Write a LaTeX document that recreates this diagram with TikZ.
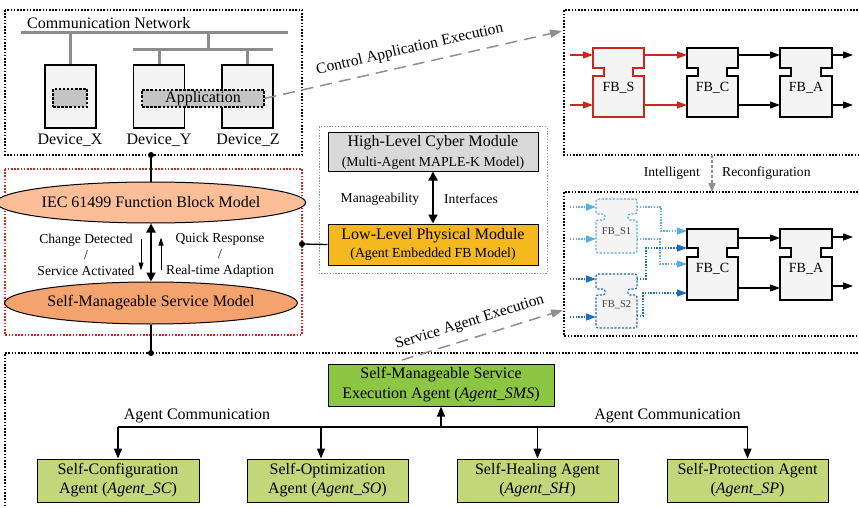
\documentclass[tikz,border=0pt]{standalone}
\usepackage{fontspec}
\setmainfont{Liberation Serif}
\usetikzlibrary{arrows.meta,calc,positioning,shapes.geometric}
\definecolor{busgray}{HTML}{8C8C8C}
\definecolor{devfill}{HTML}{F4F4F4}
\definecolor{appfill}{HTML}{C4C4C4}
\definecolor{fbred}{HTML}{C8281E}
\definecolor{lblue}{HTML}{5AAEE0}
\definecolor{dblue}{HTML}{1F6EBE}
\definecolor{iecfill}{HTML}{FBBE98}
\definecolor{smsfill}{HTML}{F4A26E}
\definecolor{cyberfill}{HTML}{D9D9D9}
\definecolor{physfill}{HTML}{F5B81E}
\definecolor{smsgreen}{HTML}{8DC642}
\definecolor{agentgreen}{HTML}{C3D67A}
\definecolor{arrgray}{HTML}{8F8F8F}
\newcommand{\fbshape}[5]{%
  \filldraw[#2] (#1.north west) -- (#1.north east) -- ([yshift=-#3pt]#1.north east) -- ++(-#5,0) -- ++(0,#4) -- ++(#5,0) coordinate (#1-nb)
    -- (#1.south east) -- (#1.south west) -- (#1.south west |- #1-nb) -- ++(#5,0) -- ++(0,-#4) -- ++(-#5,0) -- cycle;}

\begin{document}
\begin{tikzpicture}[x=1pt,y=-1pt,
  txtbig/.style={font=\fontsize{16}{19}\selectfont,inner sep=0pt,align=center},
  txtmid/.style={font=\fontsize{13.6}{16}\selectfont,inner sep=0pt,align=center},
  blkdot/.style={line width=1.3pt,dash pattern=on 1.6pt off 1.6pt},
  reddot/.style={blkdot,draw=fbred},
  graydot/.style={line width=1pt,draw=arrgray,dash pattern=on 1.3pt off 1.5pt},
  busline/.style={busgray,line width=3pt},
  devbox/.style={draw,line width=1.4pt,fill=devfill,minimum width=51pt,minimum height=63pt,inner sep=0pt},
  appbox/.style={draw,line width=1.1pt,fill=appfill,dash pattern=on 2.5pt off 1.6pt,inner sep=0pt,font=\fontsize{16}{19}\selectfont},
  grayarr/.style={arrgray,line width=1.5pt,dash pattern=on 12pt off 7pt,-{Triangle[length=12pt,width=8pt]}},
  fbbox/.style={inner sep=0pt,outer sep=0pt},
  fbtxt/.style={font=\fontsize{14}{16}\selectfont,inner sep=0pt},
  fbarr/.style={line width=1.2pt,-{Triangle[length=10pt,width=7pt]}},
  bluearr/.style={line width=1.3pt,dash pattern=on 1.4pt off 1.4pt,-{Triangle[length=10pt,width=7pt]}},
  modbox/.style={draw,line width=1pt,minimum width=210pt,inner sep=0pt,align=center,font=\fontsize{16}{20}\selectfont},
  agbox/.style={draw,line width=1pt,fill=agentgreen,minimum width=161pt,minimum height=43pt,inner sep=0pt,align=center,font=\fontsize{16}{19}\selectfont},
  agarr/.style={line width=1.5pt,-{Triangle[length=10pt,width=8pt]}},
  dblarr/.style={line width=2.2pt,{Triangle[length=9pt,width=9pt]}-{Triangle[length=9pt,width=9pt]}},
  smarr/.style={line width=1pt,-{Triangle[length=8pt,width=5pt]}}]
\useasboundingbox (0,0) rectangle (859,508);

\draw[blkdot] (5,10) rectangle (302,155);
\node[txtbig,anchor=base west] (cnet) at (27,29) {Communication Network};
\draw[busline] (21,33) -- (288,33);
\draw[busline] (133,49.5) -- (273,49.5);
\draw[busline] (208,33) -- (208,49.5);
\node[devbox] (devx) at (70.5,96.5) {};
\node[devbox] (devy) at (159,96.5) {};
\node[devbox] (devz) at (247.5,96.5) {};
\draw[busline] (devx.north) -- (devx.north |- 0,33);
\draw[busline] (devy.north) -- (devy.north |- 0,49.5);
\draw[busline] (devz.north) -- (devz.north |- 0,49.5);
\node[appbox,minimum width=34pt,minimum height=18pt] (appx) at (70,98) {};
\node[appbox,minimum width=122pt,minimum height=17pt] (app) at (203,98.5) {Application};
\node[txtbig] (devx-l) at (70,140) {Device\_X};
\node[txtbig] (devy-l) at (159,140) {Device\_Y};
\node[txtbig] (devz-l) at (248,140) {Device\_Z};

\coordinate (ctrl) at (562,31);
\draw[grayarr] (app.east) -- (ctrl) node[midway,sloped,above=8pt,font=\fontsize{15.5}{18}\selectfont,inner sep=0pt,text=black] (ctrl-l) {Control Application Execution};

\draw[blkdot] (858,10) -- (564,10) -- (564,155) -- (858,155);
\node[fbbox,minimum width=51pt,minimum height=69pt] (fbs) at (618.5,82.5) {};
\node[fbbox,minimum width=51pt,minimum height=69pt] (fbc) at (712.5,82.5) {};
\node[fbbox,minimum width=52pt,minimum height=69pt] (fba) at (806,82.5) {};
\fbshape{fbs}{draw=fbred,fill=devfill,line width=1.4pt}{20}{8}{11}
\fbshape{fbc}{draw=black,fill=devfill,line width=1.4pt}{20}{8}{11}
\fbshape{fba}{draw=black,fill=devfill,line width=1.4pt}{20}{8}{11}
\node[fbtxt] (fbs-t) at ([yshift=-5.5pt]fbs.center) {FB\_S};
\node[fbtxt] (fbc-t) at ([yshift=-5.5pt]fbc.center) {FB\_C};
\node[fbtxt] (fba-t) at ([yshift=-5.5pt]fba.center) {FB\_A};
\draw[fbarr,fbred] ([yshift=-7pt]fbs.north west) ++(-23,0) -- ++(23,0);
\draw[fbarr,fbred] ([yshift=12pt]fbs.south west) ++(-23,0) -- ++(23,0);
\draw[fbarr,fbred] ([yshift=-7pt]fbs.north east) -- ([yshift=-7pt]fbc.north west);
\draw[fbarr,fbred] ([yshift=12pt]fbs.south east) -- ([yshift=12pt]fbc.south west);
\draw[fbarr] ([yshift=-7pt]fbc.north east) -- ([yshift=-7pt]fba.north west);
\draw[fbarr] ([yshift=12pt]fbc.south east) -- ([yshift=12pt]fba.south west);
\draw[fbarr] ([yshift=-7pt]fba.north east) -- ++(21,0);
\draw[fbarr] ([yshift=12pt]fba.south east) -- ++(21,0);

\coordinate (rc1) at (712,155);
\coordinate (rc2) at (712,192);
\draw[arrgray,line width=1.2pt,dash pattern=on 3pt off 2pt,-{Triangle[length=9pt,width=7pt]}] (rc1) -- (rc2);
\node[txtmid,anchor=east] (intl) at (700,173) {Intelligent};
\node[txtmid,anchor=west] (reconf) at (722,173) {Reconfiguration};

\draw[blkdot] (858,192) -- (564,192) -- (564,336) -- (858,336);
\node[fbbox,minimum width=41pt,minimum height=54pt] (fbsa) at (616.5,226) {};
\node[fbbox,minimum width=41pt,minimum height=54pt] (fbsb) at (616.5,301) {};
\node[fbbox,minimum width=51pt,minimum height=71pt] (fbc2) at (712.5,264.5) {};
\node[fbbox,minimum width=52pt,minimum height=71pt] (fba2) at (806,264.5) {};
\fbshape{fbsa}{draw=lblue,fill=devfill,line width=1.1pt,dash pattern=on 2.2pt off 1.5pt,rounded corners=2pt}{15}{6}{9}
\fbshape{fbsb}{draw=dblue,fill=devfill,line width=1.1pt,dash pattern=on 2.2pt off 1.5pt,rounded corners=2pt}{15}{6}{9}
\fbshape{fbc2}{draw=black,fill=devfill,line width=1.4pt}{19}{9}{11}
\fbshape{fba2}{draw=black,fill=devfill,line width=1.4pt}{19}{9}{11}
\node[fbtxt,font=\fontsize{10.5}{12}\selectfont,text=black!75] (fbsa-t) at ([yshift=-6pt]fbsa.center) {FB\_S1};
\node[fbtxt,font=\fontsize{10.5}{12}\selectfont,text=black!75] (fbsb-t) at ([yshift=-4pt]fbsb.center) {FB\_S2};
\node[fbtxt] (fbc2-t) at ([yshift=-4.5pt]fbc2.center) {FB\_C};
\node[fbtxt] (fba2-t) at ([yshift=-4.5pt]fba2.center) {FB\_A};
\draw[bluearr,lblue] ([yshift=-8pt]fbsa.north west) ++(-26,0) -- ++(26,0);
\draw[bluearr,lblue] ([yshift=14pt]fbsa.south west) ++(-26,0) -- ++(26,0);
\draw[bluearr,dblue] ([yshift=-5pt]fbsb.north west) ++(-26,0) -- ++(26,0);
\draw[bluearr,dblue] ([yshift=11pt]fbsb.south west) ++(-26,0) -- ++(26,0);
\draw[bluearr,lblue] ([yshift=-8pt]fbsa.north east) -- ++(24,0) |- ([yshift=-2pt]fbc2.north west);
\draw[bluearr,lblue] ([yshift=14pt]fbsa.south east) -- ++(23,0) |- ([yshift=-35pt]fbc2.north west);
\draw[bluearr,dblue] ([yshift=-5pt]fbsb.north east) -- ++(9,0) |- ([yshift=-19pt]fbc2.north west);
\draw[bluearr,dblue] ([yshift=12pt]fbsb.south east) -- ++(6,0) |- ([yshift=7pt]fbc2.south west);
\draw[fbarr] ([yshift=-9pt]fbc2.north east) -- ([yshift=-9pt]fba2.north west);
\draw[fbarr] ([yshift=12pt]fbc2.south east) -- ([yshift=12pt]fba2.south west);
\draw[fbarr] ([yshift=-8pt]fba2.north east) -- ++(21,0);
\draw[fbarr] ([yshift=14pt]fba2.south east) -- ++(21,0);

\draw[reddot] (5,169) rectangle (302,335);
\node[ellipse,draw,line width=1pt,fill=iecfill,minimum width=237pt,minimum height=41pt,inner sep=0pt,font=\fontsize{16}{19}\selectfont] (iec) at (151,202.5) {IEC 61499 Function Block Model};
\node[ellipse,draw,line width=1pt,fill=smsfill,minimum width=240pt,minimum height=42pt,inner sep=0pt,font=\fontsize{16}{19}\selectfont] (smsm) at (151,303) {Self-Manageable Service Model};
\coordinate (j1) at (151,155);
\coordinate (j2) at (151,353);
\coordinate (j3) at (302,244);
\draw[line width=1.3pt] (j1) -- (iec.north);
\draw[line width=1.3pt] (smsm.south) -- (j2);
\fill (j1) circle (3pt);
\fill (j2) circle (3pt);
\draw[dblarr] (iec.south) -- (smsm.north);
\draw[smarr] ([xshift=-10pt]iec.south) ++(0,15) -- ++(0,32);
\draw[smarr] ([xshift=10pt]smsm.north) ++(0,-12) -- ++(0,-32);
\node[txtmid] (chg) at (86,255) {Change Detected\\/\\Service Activated};
\node[txtmid] (qresp) at (220,255) {Quick Response\\/\\Real-time Adaption};

\draw[graydot] (319,127) rectangle (547,273);
\node[modbox,fill=cyberfill,minimum height=38pt] (hlc) at (433,152) {High-Level Cyber Module\\{\fontsize{13.8}{16}\selectfont(Multi-Agent MAPLE-K Model)}};
\node[modbox,fill=physfill,minimum height=41pt,font=\fontsize{16}{18}\selectfont] (llp) at (433,244.5) {Low-Level Physical Module\\{\fontsize{13.8}{16}\selectfont(Agent Embedded FB Model)}};
\draw[dblarr,line width=1.8pt] (hlc.south) -- (llp.north);
\node[txtmid] (mng) at (380,199) {Manageability};
\node[txtmid] (itf) at (471,199) {Interfaces};
\draw[line width=1.3pt] (j3) -- (llp.west);
\fill (j3) circle (3pt);

\draw[blkdot] (858,353) -- (5,353) -- (5,510);
\coordinate (sae) at (402,360);
\coordinate (sae2) at (563,310);
\draw[grayarr] (sae) -- (sae2) node[pos=0.45,sloped,above=8pt,font=\fontsize{15.5}{18}\selectfont,inner sep=0pt,text=black] (sae-l) {Service Agent Execution};

\node[agbox,fill=smsgreen,minimum width=226pt,minimum height=42pt,font=\fontsize{16}{20}\selectfont] (agsms) at (441,385) {Self-Manageable Service\\Execution Agent (\textit{Agent\_SMS})};
\node[agbox,minimum width=162pt] (agsc) at (118,480.5) {Self-Configuration\\Agent (\textit{Agent\_SC})};
\node[agbox] (agso) at (327.5,480.5) {Self-Optimization\\Agent (\textit{Agent\_SO})};
\node[agbox] (agsh) at (537.5,480.5) {Self-Healing Agent\\(\textit{Agent\_SH})};
\node[agbox] (agsp) at (747.5,480.5) {Self-Protection Agent\\(\textit{Agent\_SP})};
\draw[line width=1.5pt] (agsc.north |- 0,427) -- (agsp.north |- 0,427);
\draw[agarr] (agsc.north |- 0,427) -- (agsc.north);
\draw[agarr] ([xshift=-6.5pt]agso.north |- 0,427) -- ([xshift=-6.5pt]agso.north);
\draw[agarr] (agsh.north |- 0,427) -- (agsh.north);
\draw[agarr] (agsp.north |- 0,427) -- (agsp.north);
\draw[agarr] (agsms.south |- 0,427) -- (agsms.south);
\node[txtbig] (acom1) at (197,416) {Agent Communication};
\node[txtbig] (acom2) at (667.5,416) {Agent Communication};
\end{tikzpicture}
\end{document}
